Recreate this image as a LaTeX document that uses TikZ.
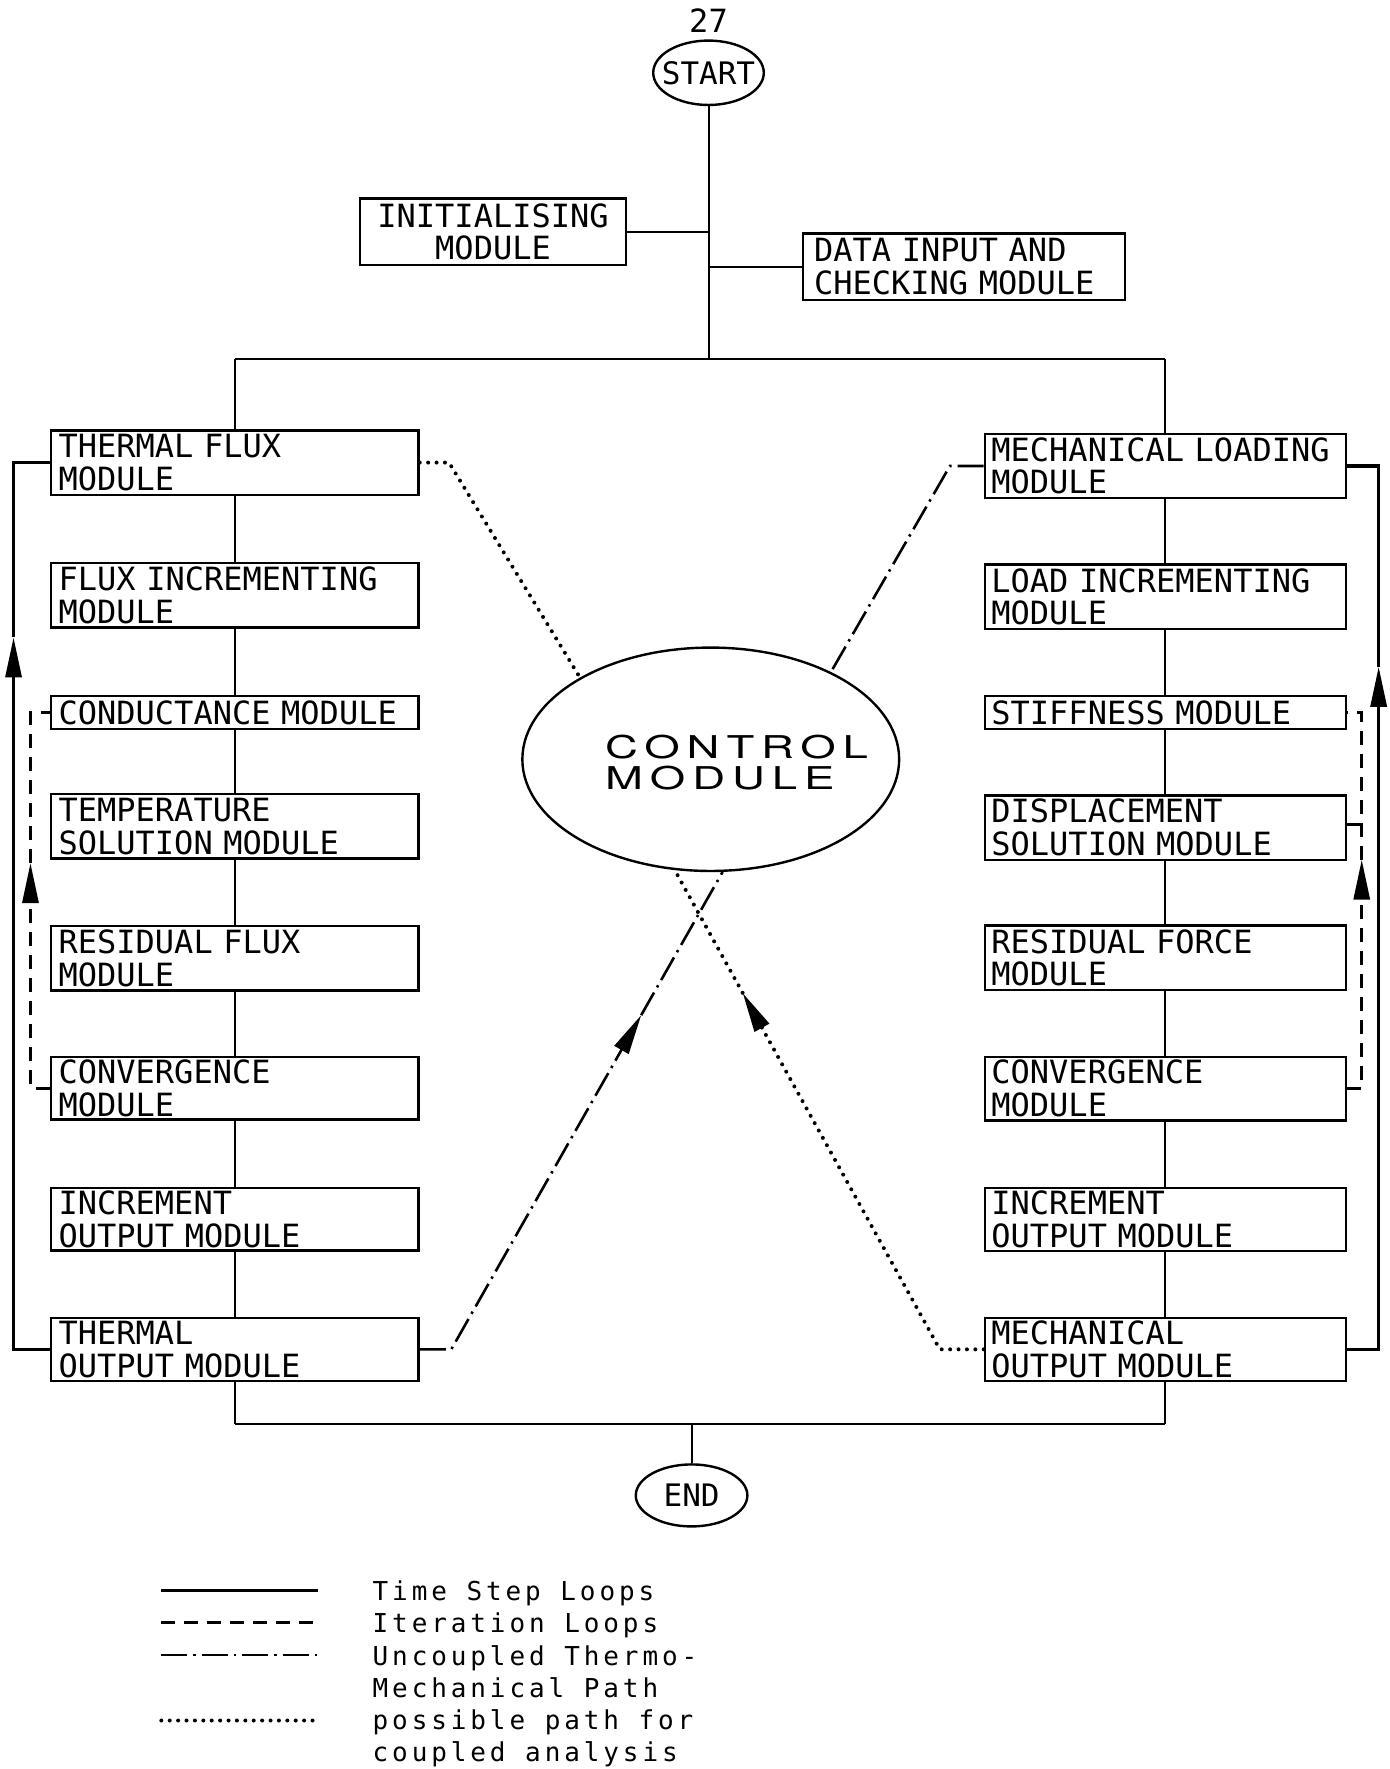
\documentclass[tikz,border=0pt]{standalone}
\usepackage{fontspec}
\newfontfamily\boxfont{DejaVu Sans Mono}
\newfontfamily\legfont[LetterSpace=15]{DejaVu Sans Mono}
\newfontfamily\ctrlfont[FakeStretch=1.45,LetterSpace=22]{TeX Gyre Heros}
\usetikzlibrary{shapes.geometric,arrows.meta,calc}
\begin{document}
\begin{tikzpicture}[x=0.5641pt,y=-0.5641pt,
  mod/.style={draw,line width=1.2pt,font=\fontsize{16}{16.4}\boxfont,inner ysep=0pt},
  lbox/.style={mod,align=left,text width=176pt,inner xsep=3.95pt,minimum height=#1},
  lbox/.default=32.2pt,
  rbox/.style={mod,align=left,text width=174pt,inner xsep=3.25pt,minimum height=#1},
  rbox/.default=32.2pt,
  term/.style={draw,ellipse,line width=1.2pt,inner sep=0pt,font=\fontsize{15.5}{16}\boxfont},
  conn/.style={line width=1pt},
  tloop/.style={line width=1.6pt},
  iter/.style={line width=1.5pt,dash pattern=on 7pt off 4.5pt},
  uncoup/.style={line width=1.3pt,dash pattern=on 13pt off 3pt on 1.2pt off 3pt},
  coup/.style={line width=2pt,line cap=round,dash pattern=on 0pt off 4.2pt},
  headarrow/.style={-{Triangle[length=20pt,width=8pt]}},
]
\fill[white] (0,0) rectangle (1232,1568);
\useasboundingbox (0,0) rectangle (1232,1568);

% top
\node[font=\fontsize{16}{16.4}\boxfont,inner sep=0pt] (pg) at (628,18) {27};
\node[term,minimum width=55.3pt,minimum height=32.2pt] (start) at (628,64.5) {\makebox[0pt]{START}};
\node[mod,align=center,text width=125pt,inner xsep=4pt,minimum height=33.3pt] (init) at (437,205.5) {INITIALISING\\MODULE};
\node[mod,align=left,text width=150pt,inner xsep=5.4pt,minimum height=33.3pt] (data) at (854.5,236.5) {DATA INPUT AND\\CHECKING MODULE};

% left column
\node[lbox] (tf) at (208,410) {THERMAL FLUX\\MODULE};
\node[lbox] (fi) at (208,527.5) {FLUX INCREMENTING\\MODULE};
\node[lbox=16.4pt] (cond) at (208,631.5) {CONDUCTANCE MODULE};
\node[lbox] (temp) at (208,732.5) {TEMPERATURE\\SOLUTION MODULE};
\node[lbox] (resf) at (208,849.5) {RESIDUAL FLUX\\MODULE};
\node[lbox=31.3pt] (lconv) at (208,964.5) {CONVERGENCE\\MODULE};
\node[lbox=31.3pt] (linc) at (208,1080.5) {INCREMENT\\OUTPUT MODULE};
\node[lbox=31.6pt] (tout) at (208,1196) {THERMAL\\OUTPUT MODULE};

% right column
\node[rbox] (ml) at (1033,413) {MECHANICAL LOADING\\MODULE};
\node[rbox] (li) at (1033,529) {LOAD INCREMENTING\\MODULE};
\node[rbox=16.4pt] (stiff) at (1033,631.5) {STIFFNESS MODULE};
\node[rbox] (disp) at (1033,733.5) {DISPLACEMENT\\SOLUTION MODULE};
\node[rbox] (resF) at (1033,849) {RESIDUAL FORCE\\MODULE};
\node[rbox=31.6pt] (rconv) at (1033,965) {CONVERGENCE\\MODULE};
\node[rbox=31.6pt] (rinc) at (1033,1081) {INCREMENT\\OUTPUT MODULE};
\node[rbox=31.6pt] (mout) at (1033,1196) {MECHANICAL\\OUTPUT MODULE};

% control module
\node[draw,ellipse,line width=1.2pt,minimum width=188.4pt,minimum height=111.7pt,inner sep=0pt] (ctrl) at (630,673) {};
\node[font=\fontsize{15.7}{15.8}\ctrlfont,align=left,inner sep=0pt,anchor=north west] (ctrltxt) at (536,651) {CONTROL\\MODULE};

% end
\node[term,minimum width=55.8pt,minimum height=31pt] (end) at (613,1325.5) {\makebox[0pt]{END}};

% main tree
\coordinate (tm) at (628,318);
\coordinate (tl) at (208,318);
\coordinate (tr) at (1033,318);
\coordinate (bl) at (208,1262);
\coordinate (br) at (1033,1262);
\coordinate (bm) at (613,1262);
\draw[conn] (start) -- (tm);
\draw[conn] (init.east) -- (init.east -| tm);
\draw[conn] (data.west) -- (data.west -| tm);
\draw[conn] (tl) -- (tr);
\draw[conn] (tl) -- (tf);
\draw[conn] (tr) -- (ml);
\draw[conn] (tf) -- (fi) -- (cond) -- (temp) -- (resf) -- (lconv) -- (linc) -- (tout) -- (bl);
\draw[conn] (ml) -- (li) -- (stiff) -- (disp) -- (resF) -- (rconv) -- (rinc) -- (mout) -- (br);
\draw[conn] (bl) -- (br);
\draw[conn] (bm) -- (end);

% time step loops
\coordinate (la) at (12,565);
\draw[tloop,headarrow] (tout.west) -| (la);
\draw[tloop] (la) |- (tf.west);
\coordinate (ra) at (1222,591);
\draw[tloop,headarrow] (mout.east) -| (ra);
\draw[tloop] (ra) |- (ml.east);

% iteration loops
\coordinate (lda) at (27,765);
\draw[iter,headarrow] (lconv.west) -| (lda);
\draw[iter] (lda) |- (cond.west);
\coordinate (rda) at (1207,762);
\draw[iter,headarrow] (rconv.east) -| (rda);
\draw[iter] (rda) |- (stiff.east);
\coordinate (ds) at ([yshift=1.7pt]disp.east);
\draw[iter] (ds) -- (ds -| rda);

% thermo-mechanical paths
\coordinate (d1) at (398,410);
\draw[coup] (tf.east) -- (d1) -- (ctrl.148);
\coordinate (c1) at (842,413);
\draw[uncoup] (ml.west) -- (c1) -- (ctrl.36);
\coordinate (c2) at (400,1196);
\coordinate (c2a) at ($(c2)!0.70!(ctrl.276)$);
\draw[uncoup,headarrow] (tout.east) -- (c2) -- (c2a);
\draw[uncoup] (c2a) -- (ctrl.276);
\coordinate (d2) at (833,1196);
\coordinate (d2a) at ($(d2)!0.744!(ctrl.252)$);
\draw[coup,headarrow] (mout.west) -- (d2) -- (d2a);
\draw[coup] (d2a) -- (ctrl.252);

% legend
\coordinate (l1a) at (143,1410); \coordinate (l1b) at (282,1410);
\coordinate (l2a) at (143,1438); \coordinate (l2b) at (282,1438);
\coordinate (l3a) at (143,1467); \coordinate (l3b) at (282,1467);
\coordinate (l4a) at (143,1525); \coordinate (l4b) at (282,1525);
\draw[tloop] (l1a) -- (l1b);
\draw[iter] (l2a) -- (l2b);
\draw[uncoup] (l3a) -- (l3b);
\draw[coup] (l4a) -- (l4b);
\node[font=\fontsize{13}{16.1}\legfont,align=left,inner sep=0pt,anchor=north west] (legtxt) at (330,1401) {Time Step Loops\\Iteration Loops\\Uncoupled Thermo-\\Mechanical Path\\possible path for\\coupled analysis};
\end{tikzpicture}
\end{document}
